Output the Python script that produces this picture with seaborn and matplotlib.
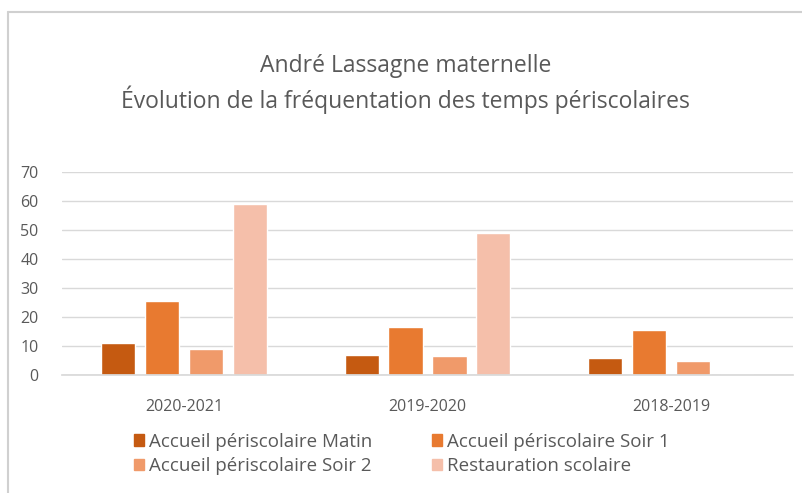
import matplotlib
matplotlib.use("Agg")
import matplotlib.pyplot as plt
from matplotlib.lines import Line2D
import pandas as pd
import seaborn as sns

years = ["2020-2021", "2019-2020", "2018-2019"]
series = [
    "Accueil périscolaire Matin",
    "Accueil périscolaire Soir 1",
    "Accueil périscolaire Soir 2",
    "Restauration scolaire",
]
matin = [11, 7, 6]
soir1 = [25.5, 16.5, 15.5]
soir2 = [9, 6.5, 5]
restauration = [59, 49, 0]
colors = ["#C55A11", "#E87A30", "#F09A6A", "#F5BFAA"]

title = "André Lassagne maternelle\nÉvolution de la fréquentation des temps périscolaires"

df = pd.DataFrame({
    "annee": years * 4,
    "serie": [s for s in series for _ in years],
    "valeur": matin + soir1 + soir2 + restauration,
})

sns.set_theme(style="white")
plt.rcParams["font.family"] = ["Open Sans", "DejaVu Sans"]
grey = "#595959"

fig = plt.figure(figsize=(8.03, 4.93), dpi=100)
ax = fig.add_axes([62 / 803, 1 - 375 / 493, 731 / 803, 203 / 493])

sns.barplot(
    data=df, x="annee", y="valeur", hue="serie", order=years, hue_order=series,
    palette=colors, width=0.72, gap=0.22, saturation=1, ax=ax, legend=False,
)

ax.set_ylim(0, 70)
ax.set_yticks(range(0, 71, 10))
ax.set_xlim(-0.5, 2.5)
ax.yaxis.grid(True, color="#D9D9D9", linewidth=1)
ax.set_axisbelow(True)
for side in ["top", "right", "left"]:
    ax.spines[side].set_visible(False)
ax.spines["bottom"].set_color("#D9D9D9")
ax.tick_params(axis="both", colors=grey, labelsize=11.5, length=0)
ax.tick_params(axis="y", pad=17)
ax.tick_params(axis="x", pad=17)
ax.set_xlabel("")
ax.set_ylabel("")

fig.text(0.505, 1 - 84 / 493, title, ha="center", va="center",
         fontsize=16.5, color=grey, linespacing=1.3)

handles = [plt.Rectangle((0, 0), 1, 1, color=c) for c in colors]
order = [0, 2, 1, 3]
fig.legend([handles[i] for i in order], [series[i] for i in order],
           ncol=2, loc="center", bbox_to_anchor=(0.5, 1 - 454 / 493),
           frameon=False, fontsize=13.5, labelcolor=grey,
           handlelength=0.55, handleheight=0.55, handletextpad=0.25,
           columnspacing=3.2, labelspacing=0.35)

# cadre du graphique
fig.add_artist(Line2D([8 / 803, 1], [1 - 12 / 493] * 2, color="#D0D0D0", lw=1.5))
fig.add_artist(Line2D([8 / 803] * 2, [0, 1 - 12 / 493], color="#D0D0D0", lw=1.5))

fig.savefig("out.png", dpi=100)
